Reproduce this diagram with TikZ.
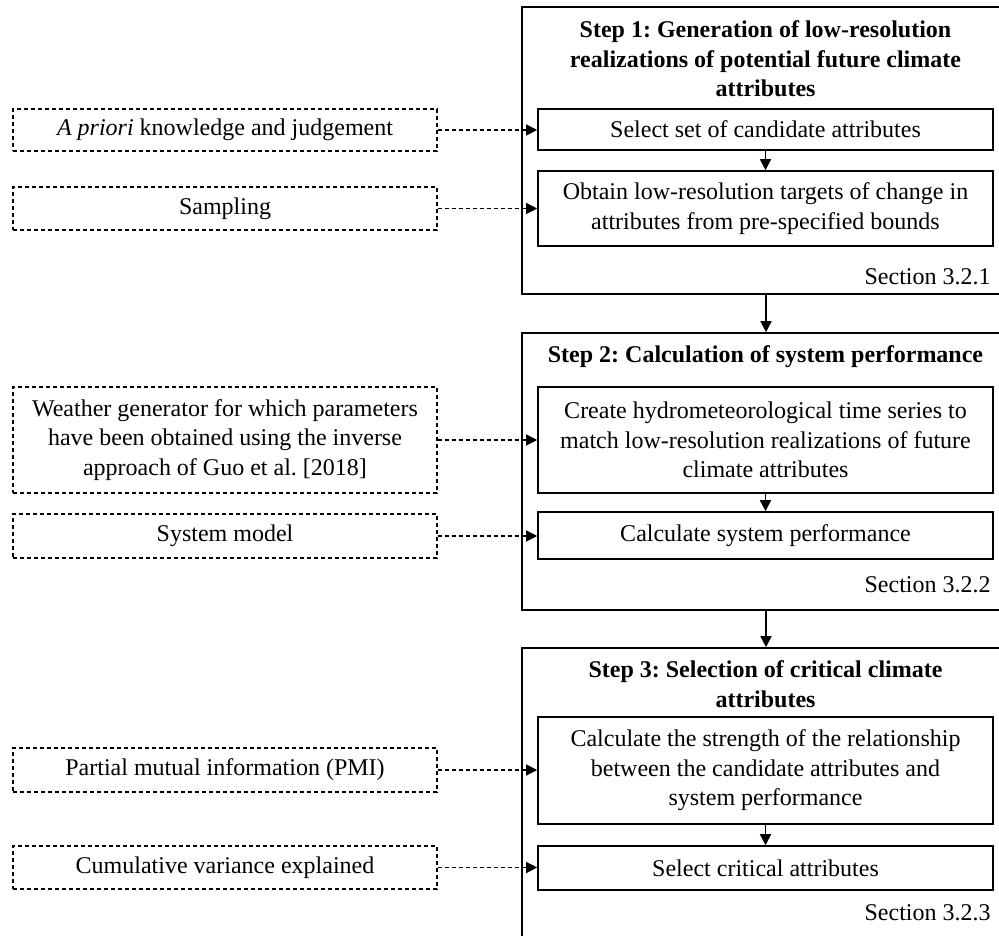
\documentclass[tikz,border=0pt]{standalone}
\usepackage{fontspec}
\setmainfont{Liberation Serif}
\usetikzlibrary{arrows.meta}
\frenchspacing
\begin{document}
\begin{tikzpicture}[x=0.5pt,y=-0.5pt,
  font=\fontsize{12}{14.7}\selectfont,
  stepframe/.style={draw, line width=0.8pt, inner sep=0pt, minimum width=244pt},
  taskbox/.style={draw, line width=0.8pt, inner sep=0pt, minimum width=227.5pt, align=center},
  inputbox/.style={draw, line width=0.6pt, dash pattern=on 2pt off 1.5pt, inner sep=0pt, minimum width=212pt, align=center},
  steptitle/.style={font=\fontsize{12}{14.7}\selectfont\bfseries, align=center, inner sep=0pt},
  seclabel/.style={anchor=east, inner sep=0pt},
  flow/.style={line width=0.8pt, -{Triangle[length=5.5pt,width=5.5pt]}},
  feed/.style={line width=0.6pt, dash pattern=on 2pt off 1.5pt, -{Triangle[length=5.5pt,width=5.5pt]}}
]
\useasboundingbox (0,0) rectangle (999,935);
\clip (0,0) rectangle (999,935);

% outer step frames (right side runs off the page)
\node[stepframe, minimum height=143.5pt] (s1) at (766,150.5) {};
\node[stepframe, minimum height=138.5pt] (s2) at (766,471.5) {};
\node[stepframe, minimum height=148.5pt] (s3) at (766,796.5) {};

% step titles
\node[steptitle] (t1) at (765.5,59) {Step 1: Generation of low-resolution\\realizations of potential future climate\\attributes};
\node[steptitle] (t2) at (765.5,357) {Step 2: Calculation of system performance};
\node[steptitle] (t3) at (765.5,684) {Step 3: Selection of critical climate\\attributes};

% tasks
\node[taskbox, minimum height=20.5pt] (a1) at (765.5,129.5) {Select set of candidate attributes};
\node[taskbox, minimum height=37.5pt] (a2) at (765.5,208.5) {Obtain low-resolution targets of change in\\attributes from pre-specified bounds};
\node[taskbox, minimum height=53pt] (b1) at (765.5,440) {Create hydrometeorological time series to\\match low-resolution realizations of future\\climate attributes};
\node[taskbox, minimum height=23.5pt] (b2) at (765.5,535.5) {Calculate system performance};
\node[taskbox, minimum height=53.5pt] (c1) at (765.5,770.5) {Calculate the strength of the relationship\\between the candidate attributes and\\system performance};
\node[taskbox, minimum height=22pt] (c2) at (765.5,868) {Select critical attributes};

% section references
\node[seclabel] (r1) at (991,277) {Section 3.2.1};
\node[seclabel] (r2) at (991,585) {Section 3.2.2};
\node[seclabel] (r3) at (991,913) {Section 3.2.3};

% inputs
\node[inputbox, minimum height=21pt] (i1) at (225,130) {\textit{A priori} knowledge and judgement};
\node[inputbox, minimum height=21.5pt] (i2) at (225,208.5) {Sampling};
\node[inputbox, minimum height=53pt] (i3) at (225,440) {Weather generator for which parameters\\have been obtained using the inverse\\approach of Guo et al. [2018]};
\node[inputbox, minimum height=22pt] (i4) at (225,536) {System model};
\node[inputbox, minimum height=22pt] (i5) at (225,770) {Partial mutual information (PMI)};
\node[inputbox, minimum height=21.5pt] (i6) at (225,867.5) {Cumulative variance explained};

% flow within and between steps
\draw[flow] (a1) -- (a2);
\draw[flow] (b1) -- (b2);
\draw[flow] (c1) -- (c2);
\draw[flow] (s1.south) -- (s2.north);
\draw[flow] (s2.south) -- (s3.north);

% inputs feeding the tasks
\draw[feed] (i1.east) -- (i1.east -| a1.west);
\draw[feed] (i2.east) -- (i2.east -| a2.west);
\draw[feed] (i3.east) -- (i3.east -| b1.west);
\draw[feed] (i4.east) -- (i4.east -| b2.west);
\draw[feed] (i5.east) -- (i5.east -| c1.west);
\draw[feed] (i6.east) -- (i6.east -| c2.west);
\end{tikzpicture}
\end{document}
